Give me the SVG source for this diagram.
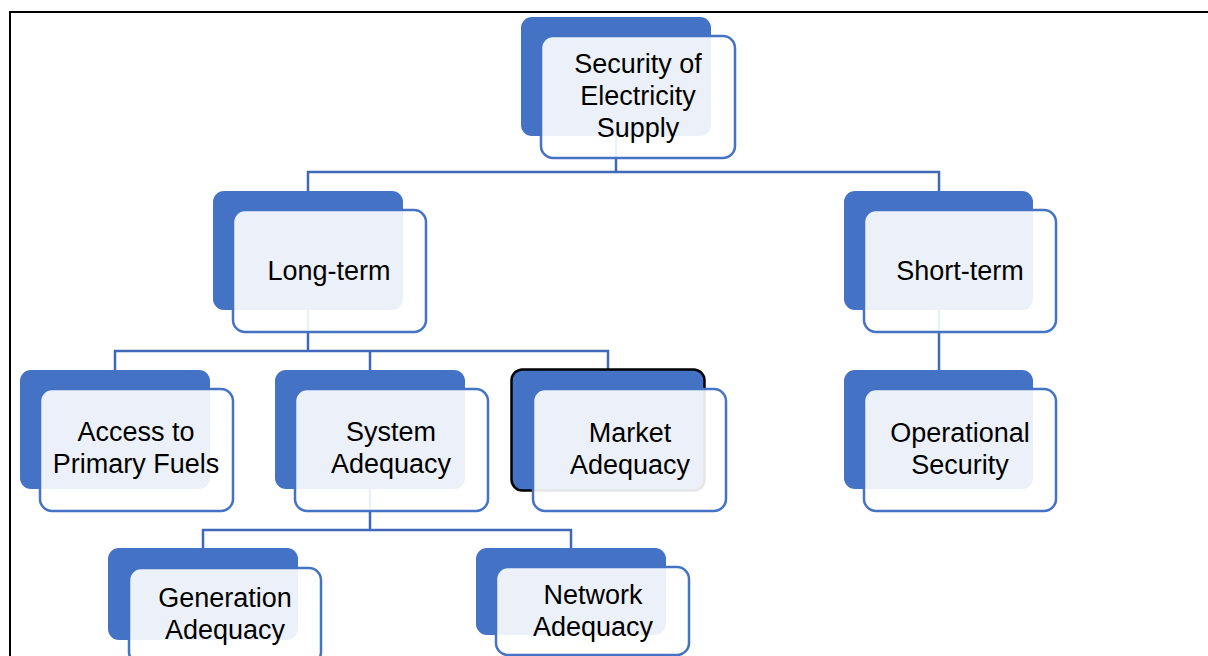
<svg xmlns="http://www.w3.org/2000/svg" width="1208" height="656" viewBox="0 0 1208 656">
<style>
.back{fill:#4472C4;}
.front{fill:#FFFFFF;fill-opacity:0.9;stroke:#4472C4;stroke-width:2.5;}
.conn{fill:none;stroke:#4068B8;stroke-width:2.5;}
.frame{fill:none;stroke:#000000;stroke-width:2;}
text{font-family:"Liberation Sans",Arial,sans-serif;font-size:27px;fill:#000000;text-anchor:middle;}
</style>
<rect width="1208" height="656" fill="#FFFFFF"/>
<path class="frame" d="M10,656 V12 H1208"/>
<g id="connectors">
<path class="conn" d="M616,136 V172 M308,191 V172 H939 V191"/>
<path class="conn" d="M308,310 V351 M115,370 V351 H608 V370 M370,370 V351"/>
<path class="conn" d="M939,310 V370"/>
<path class="conn" d="M370,489 V530 M203,548 V530 H571 V548"/>
</g>
<g id="node-security">
<rect class="back" x="521" y="17" width="190" height="119" rx="11"/>
<rect class="front" x="541" y="36" width="194" height="122" rx="12"/>
<text x="638" y="73">Security of</text>
<text x="638" y="105">Electricity</text>
<text x="638" y="137">Supply</text>
</g>
<g id="node-longterm">
<rect class="back" x="213" y="191" width="190" height="119" rx="11"/>
<rect class="front" x="233" y="210" width="193" height="122" rx="12"/>
<text x="329" y="280">Long-term</text>
</g>
<g id="node-shortterm">
<rect class="back" x="844" y="191" width="189" height="119" rx="11"/>
<rect class="front" x="864" y="210" width="192" height="122" rx="12"/>
<text x="960" y="280">Short-term</text>
</g>
<g id="node-access">
<rect class="back" x="20" y="370" width="190" height="119" rx="11"/>
<rect class="front" x="40" y="389" width="193" height="122" rx="12"/>
<text x="136" y="441">Access to</text>
<text x="136" y="473">Primary Fuels</text>
</g>
<g id="node-system">
<rect class="back" x="275" y="370" width="190" height="119" rx="11"/>
<rect class="front" x="295" y="389" width="193" height="122" rx="12"/>
<text x="391" y="441">System</text>
<text x="391" y="473">Adequacy</text>
</g>
<g id="node-market">
<rect class="back" x="511.5" y="369.5" width="193" height="121" rx="11" stroke="#000000" stroke-width="2.5"/>
<rect class="front" x="533" y="389" width="193" height="122" rx="12"/>
<text x="630" y="442">Market</text>
<text x="630" y="474">Adequacy</text>
</g>
<g id="node-operational">
<rect class="back" x="844" y="370" width="189" height="119" rx="11"/>
<rect class="front" x="864" y="389" width="192" height="122" rx="12"/>
<text x="960" y="442">Operational</text>
<text x="960" y="474">Security</text>
</g>
<g id="node-generation">
<rect class="back" x="108" y="548" width="190" height="92" rx="11"/>
<rect class="front" x="129" y="568" width="192" height="96" rx="12"/>
<text x="225" y="607">Generation</text>
<text x="225" y="639">Adequacy</text>
</g>
<g id="node-network">
<rect class="back" x="476" y="548" width="190" height="87" rx="11"/>
<rect class="front" x="496" y="567" width="193" height="88" rx="12"/>
<text x="593" y="604">Network</text>
<text x="593" y="636">Adequacy</text>
</g>
</svg>
